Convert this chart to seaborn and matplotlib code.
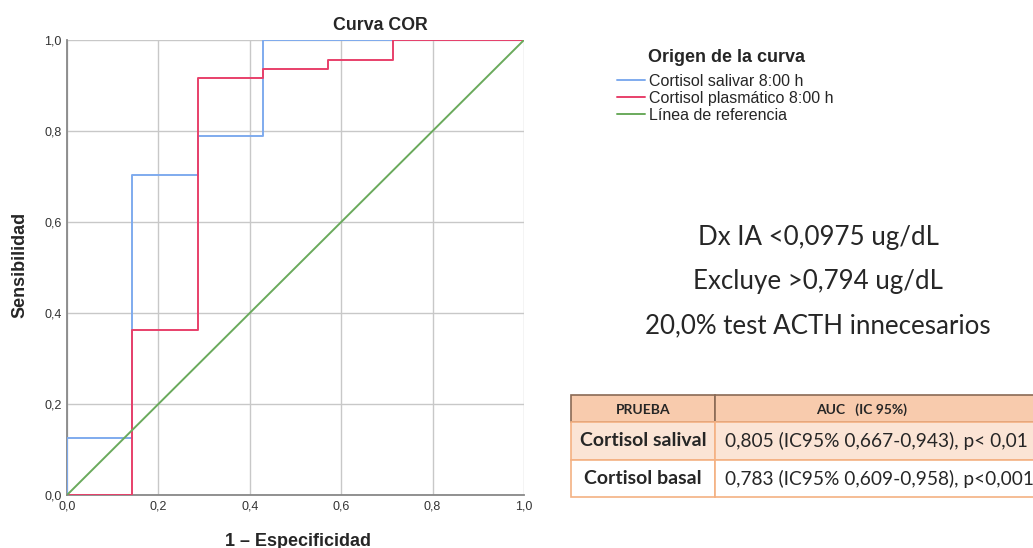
import matplotlib
matplotlib.use("Agg")
import matplotlib.pyplot as plt
from matplotlib.patches import Rectangle
import pandas as pd
import seaborn as sns

# ========== DATA ==========
salival_fpr = [0.0, 0.0, 0.143, 0.143, 0.286, 0.286, 0.429, 0.429, 1.0]
salival_tpr = [0.0, 0.125, 0.125, 0.703, 0.703, 0.788, 0.788, 1.0, 1.0]

plasma_fpr = [0.0, 0.143, 0.143, 0.286, 0.286, 0.429, 0.429, 0.571, 0.571, 0.714, 0.714, 1.0]
plasma_tpr = [0.0, 0.0, 0.362, 0.362, 0.917, 0.917, 0.936, 0.936, 0.957, 0.957, 1.0, 1.0]

ref_fpr = [0.0, 1.0]
ref_tpr = [0.0, 1.0]

series_labels = ["Cortisol salivar 8:00 h", "Cortisol plasmático 8:00 h", "Línea de referencia"]
series_colors = ["#7fabee", "#e8406a", "#6aaa5c"]

tick_values = [0.0, 0.2, 0.4, 0.6, 0.8, 1.0]
tick_labels = ["0,0", "0,2", "0,4", "0,6", "0,8", "1,0"]

notes = ["Dx IA <0,0975 ug/dL", "Excluye >0,794 ug/dL", "20,0% test ACTH innecesarios"]

table_header = ["PRUEBA", "AUC   (IC 95%)"]
table_tests = ["Cortisol salival", "Cortisol basal"]
table_auc = ["0,805 (IC95% 0,667-0,943), p< 0,01", "0,783 (IC95% 0,609-0,958), p<0,001"]

# ========== STYLE ==========
sns.set_style("white")
plt.rcParams["font.family"] = ["Liberation Sans", "DejaVu Sans"]

W, H = 1033, 548
fig = plt.figure(figsize=(W / 100, H / 100), dpi=100)


def fx(px):
    return px / W


def fy(py):
    return 1 - py / H


ax = fig.add_axes([fx(67), fy(495), fx(524) - fx(67), fy(40) - fy(495)])

df = pd.concat([
    pd.DataFrame({"fpr": salival_fpr, "tpr": salival_tpr, "curva": series_labels[0]}),
    pd.DataFrame({"fpr": plasma_fpr, "tpr": plasma_tpr, "curva": series_labels[1]}),
    pd.DataFrame({"fpr": ref_fpr, "tpr": ref_tpr, "curva": series_labels[2]}),
])

sns.lineplot(data=df, x="fpr", y="tpr", hue="curva", palette=series_colors,
             sort=False, estimator=None, linewidth=1.4, ax=ax, legend=False, zorder=3)

ax.set_xlim(0, 1)
ax.set_ylim(0, 1)
ax.set_xticks(tick_values)
ax.set_xticklabels(tick_labels)
ax.set_yticks(tick_values)
ax.set_yticklabels(tick_labels)
ax.tick_params(labelsize=9, colors="#333333", length=0, pad=4)
ax.grid(True, color="#c8c8c8", linewidth=1)
for side in ["top", "right"]:
    ax.spines[side].set_visible(False)
for side in ["left", "bottom"]:
    ax.spines[side].set_color("#888888")
    ax.spines[side].set_linewidth(1.3)
ax.set_xlabel("")
ax.set_ylabel("")

fig.text(fx(380), fy(26), "Curva COR", ha="center", va="center", fontsize=12.8, fontweight="bold")
fig.text(fx(20), fy(265), "Sensibilidad", ha="center", va="center", rotation=90,
         fontsize=13, fontweight="bold")
fig.text(fx(298), fy(541), "1 – Especificidad", ha="center", va="center",
         fontsize=13, fontweight="bold")

# legend
fig.text(fx(727), fy(57), "Origen de la curva", ha="center", va="center",
         fontsize=13, fontweight="bold")
handles = [plt.Line2D([], [], color=c, linewidth=1.4) for c in series_colors]
leg = fig.legend(handles, series_labels, loc="upper left", bbox_to_anchor=(fx(617), fy(74)),
                 frameon=False, fontsize=11.5,
                 handlelength=1.75, handletextpad=0.25, labelspacing=0.12, borderaxespad=0,
                 borderpad=0)

# notes
for i, t in enumerate(notes):
    fig.text(fx(818), fy(238 + 44 * i), t, ha="center", va="center", fontsize=18.6,
             family=["Lato", "DejaVu Sans"])

# table
edge = "#f4b183"
rows_y = [395, 422, 460, 497]
fills = ["#f8cbad", "#fbe4d5", "#ffffff"]
col_x = [571, 715, 1040]
for r in range(3):
    for c in range(2):
        rect = Rectangle((fx(col_x[c]), fy(rows_y[r + 1])), fx(col_x[c + 1]) - fx(col_x[c]),
                         fy(rows_y[r]) - fy(rows_y[r + 1]), transform=fig.transFigure,
                         facecolor=fills[r], edgecolor=edge if r > 0 else "#8a6a55",
                         linewidth=1.2)
        fig.add_artist(rect)

fig.text(fx(643), fy(410), table_header[0], ha="center", va="center", fontsize=10,
         fontweight="bold", family=["Lato", "DejaVu Sans"])
fig.text(fx(862), fy(410), table_header[1], ha="center", va="center", fontsize=10,
         fontweight="bold", family=["Lato", "DejaVu Sans"])
for i in range(2):
    yc = (rows_y[i + 1] + rows_y[i + 2]) / 2
    fig.text(fx(643), fy(yc), table_tests[i], ha="center", va="center", fontsize=14,
             fontweight="bold", family=["Lato", "DejaVu Sans"])
    fig.text(fx(725), fy(yc), table_auc[i], ha="left", va="center", fontsize=13.8,
             family=["Lato", "DejaVu Sans"])

fig.savefig("out.png", dpi=100)
